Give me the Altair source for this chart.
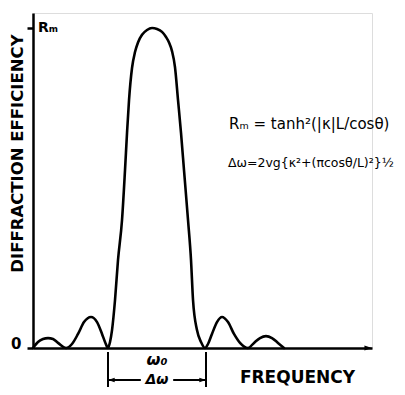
import altair as alt
import pandas as pd

# Frequency in units of half-bandwidth (omega0 = 0, zeros of main lobe at +-1)
freq = [-2.531, -2.429, -2.327, -2.224, -2.122, -2.020, -1.857,
        -1.735, -1.612, -1.490, -1.347, -1.224, -1.122, -1.061, -1.000,
        -0.959, -0.918, -0.857, -0.796, -0.714, -0.653, -0.612, -0.571,
        -0.510, -0.449, -0.388, -0.306, -0.204, -0.102, 0.000, 0.102,
        0.184, 0.245, 0.306, 0.367, 0.429, 0.490, 0.551, 0.633, 0.694,
        0.735, 0.816, 0.898, 0.980,
        1.041, 1.122, 1.224, 1.327, 1.449, 1.571, 1.694, 1.857,
        1.980, 2.102, 2.224, 2.347, 2.469, 2.592]
# Diffraction efficiency relative to Rm
eff = [0.000, 0.019, 0.028, 0.031, 0.028, 0.016, 0.000,
       0.0125, 0.044, 0.081, 0.097, 0.081, 0.044, 0.019, 0.000,
       0.019, 0.056, 0.150, 0.275, 0.400, 0.556, 0.672, 0.775,
       0.875, 0.925, 0.955, 0.979, 0.994, 1.000, 0.997, 0.988,
       0.972, 0.955, 0.928, 0.878, 0.775, 0.672, 0.556, 0.400, 0.275,
       0.150, 0.056, 0.019, 0.000,
       0.0125, 0.044, 0.081, 0.097, 0.081, 0.044, 0.016, 0.000,
       0.016, 0.031, 0.037, 0.031, 0.016, 0.000]

band_edges = [-1.0, 1.0]
eq1 = "Rₘ = tanh²(|κ|L/cosθ)"
eq2 = "Δω=2vg{κ²+(πcosθ/L)²}½"

X_DOMAIN = [-2.531, 4.388]
Y_DOMAIN = [0.0, 1.047]

curve = pd.DataFrame({"freq": freq, "eff": eff})
xs = alt.Scale(domain=X_DOMAIN, nice=False, zero=False)
ys = alt.Scale(domain=Y_DOMAIN, nice=False, zero=False)

line = alt.Chart(curve).mark_line(
    color="black", strokeWidth=2.6, interpolate="monotone", strokeCap="round"
).encode(
    x=alt.X("freq:Q", scale=xs, axis=alt.Axis(
        title="FREQUENCY", titleX=264, titleY=29, titleAlign="center",
        titleBaseline="middle", titleFontSize=17, titleFontWeight="bold",
        titleColor="black", domainColor="black", domainWidth=2.5,
        ticks=False, labels=False, grid=False)),
    y=alt.Y("eff:Q", scale=ys, axis=alt.Axis(
        title="DIFFRACTION    EFFICIENCY", titleX=-16, titleY=140, titleAngle=270,
        titleAlign="center", titleBaseline="middle", titleFontSize=16.5,
        titleFontWeight="bold", titleColor="black",
        values=[0, 1], tickSize=6, tickWidth=2.5, tickColor="black",
        labelExpr="datum.value == 0 ? '0' : ''", labelFontSize=15,
        labelFontWeight="bold", labelColor="black", labelPadding=6,
        labelBaseline="alphabetic",
        domainColor="black", domainWidth=2.5, grid=False)),
)

axis_end = pd.DataFrame({"freq": [X_DOMAIN[1]], "eff": [0.0]})
arrow = alt.Chart(axis_end).mark_point(
    shape="M 0 0 L -1.6 -0.55 L -1.6 0.55 Z", filled=True, color="black",
    size=90, opacity=1
).encode(x=alt.X("freq:Q", scale=xs), y=alt.Y("eff:Q", scale=ys))

rm = pd.DataFrame({"freq": [X_DOMAIN[0]], "eff": [1.0], "t": ["Rₘ"]})
rm_text = alt.Chart(rm).mark_text(
    align="left", baseline="middle", dx=5, fontSize=14, fontWeight="bold",
    color="black"
).encode(x=alt.X("freq:Q", scale=xs), y=alt.Y("eff:Q", scale=ys), text="t:N")

eq1_df = pd.DataFrame({"t": [eq1], "px": [196], "py": [111]})
eq1_text = alt.Chart(eq1_df).mark_text(
    align="left", baseline="middle", fontSize=15, color="black"
).encode(x=alt.X("px:Q", scale=None), y=alt.Y("py:Q", scale=None), text="t:N")

eq2_df = pd.DataFrame({"t": [eq2], "px": [195], "py": [150]})
eq2_text = alt.Chart(eq2_df).mark_text(
    align="left", baseline="middle", fontSize=12.5, color="black"
).encode(x=alt.X("px:Q", scale=None), y=alt.Y("py:Q", scale=None), text="t:N")

edges = pd.DataFrame({"freq": band_edges})
vlines = alt.Chart(edges).mark_rule(color="black", strokeWidth=2).encode(
    x=alt.X("freq:Q", scale=xs), y=alt.value(339), y2=alt.value(376))

segs = pd.DataFrame({"a": [-1.0, 0.33], "b": [-0.33, 1.0]})
hsegs = alt.Chart(segs).mark_rule(color="black", strokeWidth=1.8).encode(
    x=alt.X("a:Q", scale=xs), x2="b:Q", y=alt.value(367))

heads = pd.DataFrame({"freq": band_edges,
                      "shape": ["M 0 0 L 1.6 -0.55 L 1.6 0.55 Z",
                                "M 0 0 L -1.6 -0.55 L -1.6 0.55 Z"]})
head_marks = alt.Chart(heads).mark_point(filled=True, color="black", size=70,
                                         opacity=1).encode(
    x=alt.X("freq:Q", scale=xs), y=alt.value(367),
    shape=alt.Shape("shape:N", scale=None))

labels = pd.DataFrame({"freq": [0.0, 0.0], "t": ["ω₀", "Δω"],
                       "py": [347, 367], "fs": [16, 14]})
center_text = alt.Chart(labels).mark_text(
    align="center", baseline="middle", fontStyle="italic",
    fontWeight="bold", color="black"
).encode(x=alt.X("freq:Q", scale=xs), y=alt.Y("py:Q", scale=None), text="t:N",
         size=alt.Size("fs:Q", scale=None, legend=None))

chart = alt.layer(
    line, arrow, rm_text, eq1_text, eq2_text, vlines, hsegs, head_marks,
    center_text
).properties(
    width=339, height=335,
    padding={"left": 25, "top": 5, "right": 25, "bottom": 39},
    autosize=alt.AutoSizeParams(type="none"),
).configure_view(stroke=None).configure(font="DejaVu Sans", background="white")

chart.save("out.html", embed_options={"renderer": "svg", "actions": False})
